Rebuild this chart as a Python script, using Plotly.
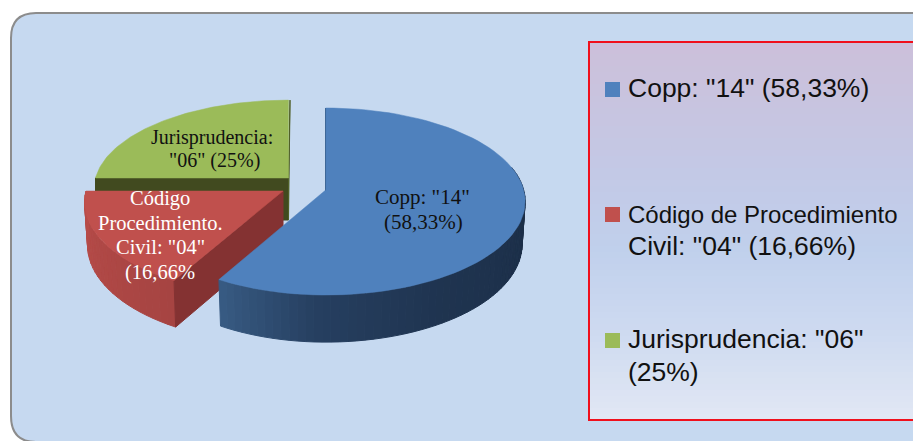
import numpy as np
import plotly.graph_objects as go

categories = ["Copp", "Código de Procedimiento Civil", "Jurisprudencia"]
values = [14, 4, 6]
legend_lines = [['Copp: "14" (58,33%)'],
                ['Código de Procedimiento', 'Civil: "04" (16,66%)'],
                ['Jurisprudencia: "06"', '(25%)']]
slice_lines = [['Copp: "14"', '(58,33%)'],
               ['Código', 'Procedimiento.', 'Civil: "04"', '(16,66%'],
               ['Jurisprudencia:', '"06" (25%)']]

TOP = ["#4f81bd", "#c0504d", "#9bbb59"]
W, H = 913, 441
K = 0.123
fig = go.Figure()


def rim(cx, cy, scale, phi, bottom=False, shrink=0.985):
    """Project a pie angle (clockwise from 12 o'clock, radians) to screen.
    scale = (left radius, right radius, vertical factor)."""
    left, right, vert = scale
    s = np.sin(phi)
    x = np.where(s < 0, left, right) * s * (1 - K * np.cos(phi))
    y = -93.5 * vert * np.cos(phi) * (1 - K * np.cos(phi))
    if bottom:
        return cx + shrink * x, cy + shrink * y + 42 + 6.7 * (-np.cos(phi))
    return cx + x, cy + y


def poly(xs, ys, color, lw=1.0):
    fig.add_trace(go.Scatter(x=list(xs), y=list(ys), mode="lines", fill="toself", fillcolor=color,
                             line=dict(width=lw, color=color), hoverinfo="skip", showlegend=False))


def mix(c1, c2, t):
    a = [int(c1[i:i + 2], 16) for i in (1, 3, 5)]
    b = [int(c2[i:i + 2], 16) for i in (1, 3, 5)]
    return "rgb(%d,%d,%d)" % tuple(round(a[i] + (b[i] - a[i]) * t) for i in range(3))


def ramp(stops, t):
    for (ta, ca), (tb, cb) in zip(stops, stops[1:]):
        if ta <= t <= tb:
            return mix(ca, cb, (t - ta) / (tb - ta))
    return stops[-1][1]


shares = np.array(values, dtype=float) / sum(values)
edges = np.concatenate([[0], np.cumsum(shares)]) * 2 * np.pi


def face(i, cx, cy, scale):
    ph = np.linspace(edges[i], edges[i + 1], 80)
    xs, ys = rim(cx, cy, scale, ph)
    poly(np.r_[cx, xs, cx], np.r_[cy, ys, cy], TOP[i], 0.5)


def outer_wall(cx, cy, scale, start, end, stops, n=40):
    ph = np.linspace(start, end, n + 1)
    for j in range(n):
        xa, ya = rim(cx, cy, scale, ph[j])
        xb, yb = rim(cx, cy, scale, ph[j + 1])
        xc, yc = rim(cx, cy, scale, ph[j + 1], True)
        xd, yd = rim(cx, cy, scale, ph[j], True)
        poly([xa, xb, xc, xd, xa], [ya, yb, yc, yd, ya], ramp(stops, j / (n - 1)))


# background panel with rounded frame
shapes = [dict(type="path", layer="below",
               path=f"M 11 38 Q 11 13 36 13 L {W + 20} 13 L {W + 20} {H + 1} L 36 {H + 1} Q 11 {H + 1} 11 416 Z",
               fillcolor="#c6d9f0", line=dict(color="#8c8c8c", width=2))]

# legend panel gradient
panel_stops = [(0.0, "#ccc0da"), (0.35, "#c3c9e6"), (0.55, "#c0d0ec"), (0.75, "#ccd9f0"), (1.0, "#e1e7f4")]
y0, y1 = 42, 420
n_strips = 63
for s in range(n_strips):
    shapes.append(dict(type="rect", layer="below", x0=589, x1=W + 5,
                       y0=y0 + (y1 - y0) * s / n_strips, y1=y0 + (y1 - y0) * (s + 1) / n_strips + 0.5,
                       fillcolor=ramp(panel_stops, s / (n_strips - 1)), line=dict(width=0)))
shapes.append(dict(type="rect", layer="below", x0=589, x1=W + 5, y0=y0, y1=y1,
                   fillcolor="rgba(0,0,0,0)", line=dict(color="#f0101c", width=2)))
# legend swatches
for i, yy in enumerate([82, 207, 333]):
    shapes.append(dict(type="rect", x0=605, x1=620, y0=yy, y1=yy + 15, fillcolor=TOP[i], line=dict(width=0)))

# --- Jurisprudencia slice (back)
gx, gy, gs = 288.5, 178, (193, 193, 0.95)
xl, yl = rim(gx, gy, gs, edges[3] - np.pi / 2)
poly([xl, gx, gx, xl, xl], [yl, gy, gy + 42, yl + 42, yl], "#414a1f")
xt, yt = rim(gx, gy, gs, edges[3])
poly([gx, xt + 1.5, xt + 1.5, gx, gx], [gy, yt, yt + 4, gy + 42, gy], "#4f5f26")
face(2, gx, gy, gs)

# --- Código slice (pulled left)
rx, ry, rs = 283, 191, (197, 197, 1.0)
xa, ya = rim(rx, ry, rs, edges[1])
xb, yb = rim(rx, ry, rs, edges[1], True)
outer_wall(rx, ry, rs, edges[1], edges[2], [(0, "#a64442"), (1, "#b84c49")], 24)
poly([rx, xa, xb, rx, rx], [ry, ya, yb, ry + 45, ry], "#843232")
face(1, rx, ry, rs)

# --- Copp slice (front)
bx, by, bs = 325.7, 190, (193, 198, 1.0)
blue_wall = [(0, "#1a2c44"), (0.55, "#1f3450"), (0.8, "#263f60"), (1, "#375a82")]
outer_wall(bx, by, bs, np.pi / 2 - 0.25, edges[1], blue_wall, 60)
xt, yt = rim(bx, by, bs, 0)
poly([bx, xt, xt, bx, bx], [by, yt, yt + 3, by + 3, by], "#24405f")
face(0, bx, by, bs)

fig.update_layout(
    width=W, height=H, margin=dict(l=0, r=0, t=0, b=0), autosize=False,
    paper_bgcolor="white", plot_bgcolor="rgba(0,0,0,0)", showlegend=False, shapes=shapes,
    xaxis=dict(range=[0, W], visible=False, fixedrange=True),
    yaxis=dict(range=[H, 0], visible=False, fixedrange=True),
)


def label(x, y, txt, size, family, color, anchor="center"):
    fig.add_annotation(x=x, y=y, text=txt, showarrow=False, xanchor=anchor, yanchor="middle",
                       font=dict(size=size, family=family, color=color), borderpad=0)


SERIF = "Liberation Serif"
SANS = "Liberation Sans"
for txt, (x, y) in zip(slice_lines[0], [(422, 197), (423, 222)]):
    label(x, y, txt, 21, SERIF, "#111111")
for txt, (x, y) in zip(slice_lines[1], [(160, 198), (160, 223), (160, 247), (160, 272)]):
    label(x, y, txt, 20.5, SERIF, "white")
for txt, (x, y) in zip(slice_lines[2], [(212, 137), (214, 160)]):
    label(x, y, txt, 20, SERIF, "#111111")
for txt, y, size in zip(legend_lines[0] + legend_lines[1] + legend_lines[2],
                        [88, 214, 246, 339, 372], [26.5, 24, 26.5, 26.5, 26.5]):
    label(627, y, txt, size, SANS, "#111111", "left")

fig.write_html("out.html", config=dict(displayModeBar=False),
               post_script="document.body.style.margin='0';document.documentElement.style.overflow='hidden';")
